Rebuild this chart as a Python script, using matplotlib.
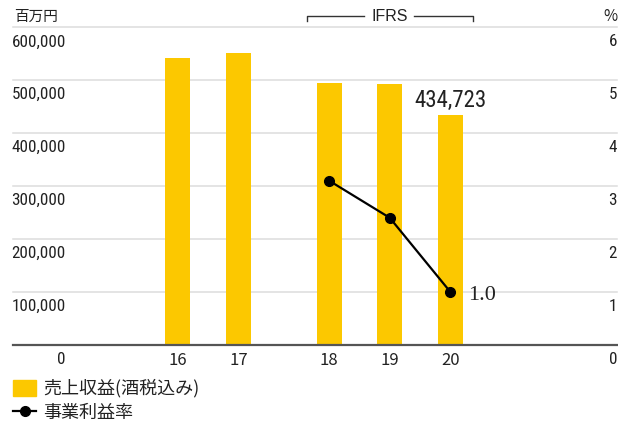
import matplotlib
matplotlib.use('Agg')
import matplotlib.pyplot as plt
from matplotlib.patches import Rectangle
from matplotlib.lines import Line2D
from matplotlib.transforms import blended_transform_factory

# ---- data ----
years = ['16', '17', '18', '19', '20']
x_pos = [0, 1, 2.5, 3.5, 4.5]
revenue = [542000, 552000, 495000, 493000, 434723]
margin_years = ['18', '19', '20']
margin = [3.1, 2.4, 1.0]
left_ticks = [0, 100000, 200000, 300000, 400000, 500000, 600000]
left_labels = ['0', '100,000', '200,000', '300,000', '400,000', '500,000', '600,000']
right_ticks = [0, 1, 2, 3, 4, 5, 6]
right_labels = ['0', '1', '2', '3', '4', '5', '6']
legend_labels = ['売上収益(酒税込み)', '事業利益率']

BAR = '#FCC800'
TXT = '#222222'
LATIN = ['Roboto Condensed', 'Archivo Narrow', 'Liberation Sans', 'DejaVu Sans']
CJK = ['Noto Sans CJK JP', 'DejaVu Sans']
plt.rcParams['font.family'] = LATIN

W, H = 618, 430
fig = plt.figure(figsize=(W / 100, H / 100), dpi=100)

def fy(py):
    return 1 - py / H

ax = fig.add_axes([13 / W, 1 - 344.7 / H, (617 - 13) / W, (344.7 - 27.4) / H])
ax.set_xlim((13 - 178) / 60.5, (617 - 178) / 60.5)
ax.set_ylim(0, 600000)
ax2 = ax.twinx()
ax2.set_ylim(0, 6)
for a in (ax, ax2):
    for s in a.spines.values():
        s.set_visible(False)
    a.set_yticks([])
ax2.set_xticks([])

# grid
for v in left_ticks[1:]:
    ax.axhline(v, color='#dddddd', lw=1.1, zorder=0, clip_on=False)
ax.axhline(0, color='#555555', lw=1.6, zorder=3, clip_on=False)

# bars
ax.bar(x_pos, revenue, width=25 / 60.5, color=BAR, zorder=2)

# line
mx = [x_pos[years.index(y)] for y in margin_years]
ax2.plot(mx, margin, color='black', lw=1.6, marker='o', ms=7, zorder=5)

# x tick labels
ax.set_xticks(x_pos)
ax.set_xticklabels(years, family=CJK, fontsize=12, color=TXT)
ax.tick_params(axis='x', length=0, pad=5.5)

# y labels (below gridlines)
for v, l in zip(left_ticks, left_labels):
    ax.annotate(l, xy=(66 / W, v), xycoords=('figure fraction', 'data'),
                xytext=(0, -19), textcoords='offset pixels',
                ha='right', va='baseline', fontsize=12.3, color=TXT)
for v, l in zip(right_ticks, right_labels):
    ax2.annotate(l, xy=(617 / W, v), xycoords=('figure fraction', 'data'),
                 xytext=(0, -19), textcoords='offset pixels',
                 ha='right', va='baseline', fontsize=12.3, color=TXT)

# value labels
ax.annotate(f'{revenue[-1]:,}', xy=(x_pos[-1], revenue[-1]), xytext=(0, 8),
            textcoords='offset pixels', ha='center', va='baseline',
            fontsize=16.5, color=TXT)
ax2.annotate(f'{margin[-1]:.1f}', xy=(mx[-1], margin[-1]), xytext=(18, -8),
             textcoords='offset pixels', ha='left', va='baseline',
             fontsize=16, family=['Liberation Serif', 'DejaVu Serif'], color=TXT)

# headers
fig.text(14 / W, fy(16.5), '百万円', ha='left', va='center', fontsize=10.5,
         family=CJK, color=TXT)
fig.text(617 / W, fy(16.5), '%', ha='right', va='center', fontsize=11,
         family=CJK, color=TXT)

# IFRS bracket
tr = blended_transform_factory(ax.transData, fig.transFigure)
xl, xr = x_pos[2] - 0.37, x_pos[4] + 0.37
xc = x_pos[3]
yl, yt = fy(15.7), fy(20.7)
kw = dict(color='#333333', lw=1.0, transform=tr, clip_on=False)
ax.plot([xl, xl, xc - 0.42], [yt, yl, yl], **kw)
ax.plot([xc + 0.40, xr, xr], [yl, yl, yt], **kw)
ax.text(xc, fy(16.5), 'IFRS', transform=tr, ha='center', va='center',
        fontsize=11.5, family=['Liberation Sans', 'DejaVu Sans'], color=TXT)

# legend
fig.patches.append(Rectangle((13 / W, fy(396)), 23 / W, 16 / H,
                             transform=fig.transFigure, color=BAR))
fig.text(43 / W, fy(388), legend_labels[0], ha='left', va='center',
         fontsize=13, family=CJK, color=TXT)
fig.lines.append(Line2D([13 / W, 36 / W], [fy(410.5), fy(410.5)],
                        transform=fig.transFigure, color='black', lw=1.6))
fig.lines.append(Line2D([24.5 / W], [fy(410.5)], transform=fig.transFigure,
                        color='black', marker='o', ms=7))
fig.text(43 / W, fy(412.5), legend_labels[1], ha='left', va='center',
         fontsize=13, family=CJK, color=TXT)

fig.savefig('out.png', dpi=100)
